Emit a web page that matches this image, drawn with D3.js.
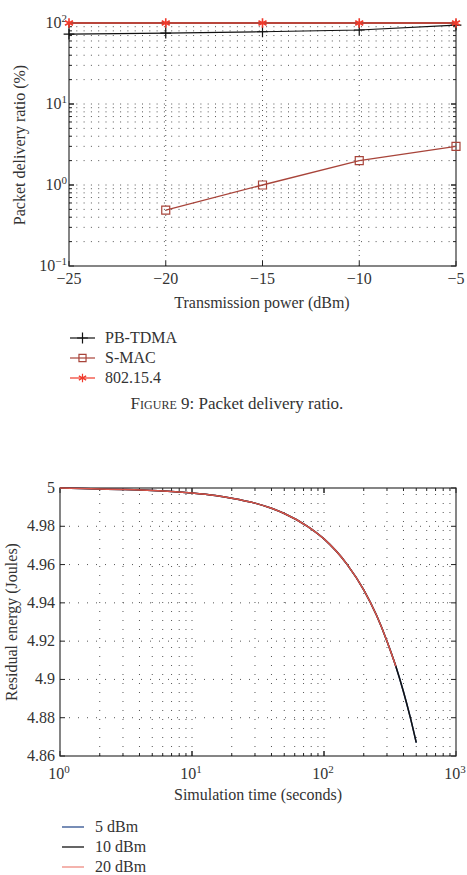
<!DOCTYPE html>
<html>
<head>
<meta charset="utf-8">
<script src="https://cdn.jsdelivr.net/npm/d3@7"></script>
</head>
<body style="margin:0;background:#fff;">
<svg id="chart" width="467" height="875"></svg>
<script>
// figure 9 data
var power = [-25, -20, -15, -10, -5];
var pbtdma = [73, 75, 78, 82, 94];
var smacPower = [-20, -15, -10, -5];
var smac = [0.49, 1.0, 2.0, 3.0];
var ieee = [100, 100, 100, 100, 100];
var powerTicks = [-25, -20, -15, -10, -5];
var ratioTicks = [0.1, 1, 10, 100];
var ratioExp = ["\u22121", "0", "1", "2"];

// figure 10 data
var simTime = [1, 2, 3, 5, 7, 10, 15, 20, 30, 40, 50, 75, 100, 150, 200, 250, 300, 350, 400, 450, 500];
var energy10 = [5.0, 4.9995, 4.9992, 4.9987, 4.9982, 4.9974, 4.9961, 4.9947, 4.9921, 4.9894, 4.9867, 4.980, 4.9734, 4.960, 4.9468, 4.9335, 4.920, 4.9069, 4.8936, 4.8803, 4.867];
var energy5 = energy10.slice();
var energy20 = energy10.slice(0, 18);
var timeTicks = [1, 10, 100, 1000];
var timeExp = ["0", "1", "2", "3"];
var energyTicks = [4.86, 4.88, 4.9, 4.92, 4.94, 4.96, 4.98, 5];

var FONT = "Liberation Serif";
var svg = d3.select("#chart");

function txt(g, x, y, s, size, anchor){
	return g.append("text").attr("x", x).attr("y", y)
		.attr("font-family", FONT).attr("font-size", size)
		.attr("fill", "#333").attr("text-anchor", anchor || "start").text(s);
}

function supLabel(g, x, y, base, exp, anchor){
	var t = g.append("text").attr("x", x).attr("y", y)
		.attr("font-family", FONT).attr("fill", "#333")
		.attr("text-anchor", anchor).attr("font-size", 16);
	t.append("tspan").text(base);
	t.append("tspan").attr("dy", -6).attr("font-size", 11).text(exp);
}

// ---------- chart 1 ----------
var x1 = d3.scaleLinear().domain([-25, -5]).range([69, 456]);
var y1 = d3.scaleLog().domain([0.1, 100]).range([266, 23]);
var g1 = svg.append("g");

// horizontal grid at log minor positions
var minorY = [];
for(var k = -1; k < 2; k++){
	for(var m = 1; m < 10; m++){
		var v = m*Math.pow(10, k);
		if (v > 0.1 && v < 100) minorY.push(v);
	}
}
g1.selectAll(".hg").data(minorY).enter().append("line")
	.attr("x1", x1(-25)).attr("x2", x1(-5))
	.attr("y1", function(d){return y1(d);}).attr("y2", function(d){return y1(d);})
	.attr("stroke", "#555").attr("stroke-width", 1).attr("stroke-dasharray", "1,6.3");
g1.selectAll(".vg").data([-20, -15, -10]).enter().append("line")
	.attr("x1", function(d){return x1(d);}).attr("x2", function(d){return x1(d);})
	.attr("y1", y1(0.1)).attr("y2", y1(100))
	.attr("stroke", "#555").attr("stroke-width", 1).attr("stroke-dasharray", "1,4");

// frame
g1.append("rect").attr("x", 69).attr("y", 23).attr("width", 387).attr("height", 243)
	.attr("fill", "none").attr("stroke", "#444").attr("stroke-width", 1.3);

// ticks
g1.selectAll(".ytl").data(minorY.concat(ratioTicks)).enter().append("path")
	.attr("d", function(d){
		var len = ratioTicks.indexOf(d) >= 0 ? 5 : 3;
		return "M69," + y1(d) + "h" + len + "M456," + y1(d) + "h" + (-len);
	})
	.attr("stroke", "#222").attr("stroke-width", 1);
g1.selectAll(".xtk").data(powerTicks).enter().append("path")
	.attr("d", function(d){return "M" + x1(d) + ",266v-5M" + x1(d) + ",23v5";})
	.attr("stroke", "#222").attr("stroke-width", 1);

powerTicks.forEach(function(d){
	txt(g1, x1(d), 284, d < 0 ? "\u2212" + Math.abs(d) : String(d), 16, "middle");
});
ratioTicks.forEach(function(d, i){
	supLabel(g1, 67, y1(d) + 5, "10", ratioExp[i], "end");
});

txt(g1, 262, 308, "Transmission power (dBm)", 16, "middle");
txt(g1, 0, 0, "Packet delivery ratio (%)", 16, "middle")
	.attr("transform", "translate(25,145) rotate(-90)");

// series
var line1 = d3.line().x(function(d){return x1(d[0]);}).y(function(d){return y1(d[1]);});
var pbData = d3.zip(power, pbtdma);
var smData = d3.zip(smacPower, smac);
var ieData = d3.zip(power, ieee);

g1.append("path").datum(pbData).attr("d", line1).attr("fill", "none")
	.attr("stroke", "#111").attr("stroke-width", 1.2);
g1.selectAll(".pbm").data(pbData).enter().append("path")
	.attr("transform", function(d){return "translate(" + x1(d[0]) + "," + y1(d[1]) + ")";})
	.attr("d", d3.symbol().type(d3.symbolPlus).size(40))
	.attr("fill", "none").attr("stroke", "#111").attr("stroke-width", 1.2);

g1.append("path").datum(smData).attr("d", line1).attr("fill", "none")
	.attr("stroke", "#a8443a").attr("stroke-width", 1.3);
g1.selectAll(".smm").data(smData).enter().append("path")
	.attr("transform", function(d){return "translate(" + x1(d[0]) + "," + y1(d[1]) + ")";})
	.attr("d", d3.symbol().type(d3.symbolSquare).size(64))
	.attr("fill", "none").attr("stroke", "#a8443a").attr("stroke-width", 1.2);

g1.append("path").datum(ieData).attr("d", line1).attr("fill", "none")
	.attr("stroke", "#b8463c").attr("stroke-width", 2.2);
g1.selectAll(".iem").data(ieData).enter().append("path")
	.attr("transform", function(d){return "translate(" + x1(d[0]) + "," + y1(d[1]) + ")";})
	.attr("d", d3.symbol().type(d3.symbolAsterisk).size(60))
	.attr("fill", "none").attr("stroke", "#f0392b").attr("stroke-width", 1.6);

// legend 1
var leg1 = [
	{name: "PB-TDMA", color: "#111", sym: d3.symbolPlus, size: 40},
	{name: "S-MAC", color: "#a8443a", sym: d3.symbolSquare, size: 50},
	{name: "802.15.4", color: "#f0392b", sym: d3.symbolAsterisk, size: 50}
];
leg1.forEach(function(d, i){
	var yy = 338 + i*20;
	g1.append("line").attr("x1", 70).attr("x2", 95).attr("y1", yy).attr("y2", yy)
		.attr("stroke", d.color).attr("stroke-width", 1.2);
	g1.append("path").attr("transform", "translate(82.5," + yy + ")")
		.attr("d", d3.symbol().type(d.sym).size(d.size))
		.attr("fill", "none").attr("stroke", d.color).attr("stroke-width", 1.2);
	txt(g1, 105, yy + 5, d.name, 16);
});

var cap = g1.append("text").attr("x", 237).attr("y", 409).attr("text-anchor", "middle")
	.attr("font-family", FONT).attr("font-size", 17).attr("fill", "#333");
cap.append("tspan").attr("font-variant", "small-caps").style("font-variant", "small-caps").text("Figure");
cap.append("tspan").text(" 9: Packet delivery ratio.");

// ---------- chart 2 ----------
var x2 = d3.scaleLog().domain([1, 1000]).range([60, 456]);
var y2 = d3.scaleLinear().domain([4.86, 5]).range([756, 488]);
var g2 = svg.append("g");

var minorX = [];
for(var e = 0; e < 3; e++){
	for(var n = 1; n < 10; n++){
		var t = n*Math.pow(10, e);
		if (t > 1) minorX.push(t);
	}
}
g2.selectAll(".vg").data(minorX).enter().append("line")
	.attr("x1", function(d){return x2(d);}).attr("x2", function(d){return x2(d);})
	.attr("y1", 756).attr("y2", 488)
	.attr("stroke", "#555").attr("stroke-width", 1).attr("stroke-dasharray", "1,8");
g2.selectAll(".hg").data(energyTicks.slice(1, 7)).enter().append("line")
	.attr("x1", 60).attr("x2", 456)
	.attr("y1", function(d){return y2(d);}).attr("y2", function(d){return y2(d);})
	.attr("stroke", "#555").attr("stroke-width", 1).attr("stroke-dasharray", "1,8");

g2.append("rect").attr("x", 60).attr("y", 488).attr("width", 396).attr("height", 268)
	.attr("fill", "none").attr("stroke", "#444").attr("stroke-width", 1.3);

g2.selectAll(".ytk").data(energyTicks).enter().append("path")
	.attr("d", function(d){return "M60," + y2(d) + "h5M456," + y2(d) + "h-5";})
	.attr("stroke", "#222").attr("stroke-width", 1);
g2.selectAll(".xtk").data(minorX.concat(timeTicks)).enter().append("path")
	.attr("d", function(d){
		var len = timeTicks.indexOf(d) >= 0 ? 5 : 3;
		return "M" + x2(d) + ",756v" + (-len) + "M" + x2(d) + ",488v" + len;
	})
	.attr("stroke", "#222").attr("stroke-width", 1);

energyTicks.forEach(function(d){
	txt(g2, 55, y2(d) + 5, String(+d.toFixed(2)), 16, "end");
});
timeTicks.forEach(function(d, i){
	supLabel(g2, x2(d) - 1, 779, "10", timeExp[i], "middle");
});

txt(g2, 258, 800, "Simulation time (seconds)", 16, "middle");
txt(g2, 0, 0, "Residual energy (Joules)", 16, "middle")
	.attr("transform", "translate(17,622) rotate(-90)");

var line2 = d3.line().curve(d3.curveMonotoneX)
	.x(function(d){return x2(d[0]);}).y(function(d){return y2(d[1]);});
var series2 = [
	{name: "5 dBm", color: "#2d4f8f", data: d3.zip(simTime, energy5)},
	{name: "10 dBm", color: "#111", data: d3.zip(simTime, energy10)},
	{name: "20 dBm", color: "#d9554a", data: d3.zip(simTime.slice(0, 18), energy20)}
];
series2.forEach(function(s){
	g2.append("path").datum(s.data).attr("d", line2).attr("fill", "none")
		.attr("stroke", s.color).attr("stroke-width", 1.5);
});

series2.forEach(function(s, i){
	var yy = 827 + i*20;
	g2.append("line").attr("x1", 62).attr("x2", 84).attr("y1", yy).attr("y2", yy)
		.attr("stroke", s.name == "20 dBm" ? "#ee8a80" : s.color).attr("stroke-width", 1.3);
	txt(g2, 95, yy + 5, s.name, 16);
});
</script>
</body>
</html>
